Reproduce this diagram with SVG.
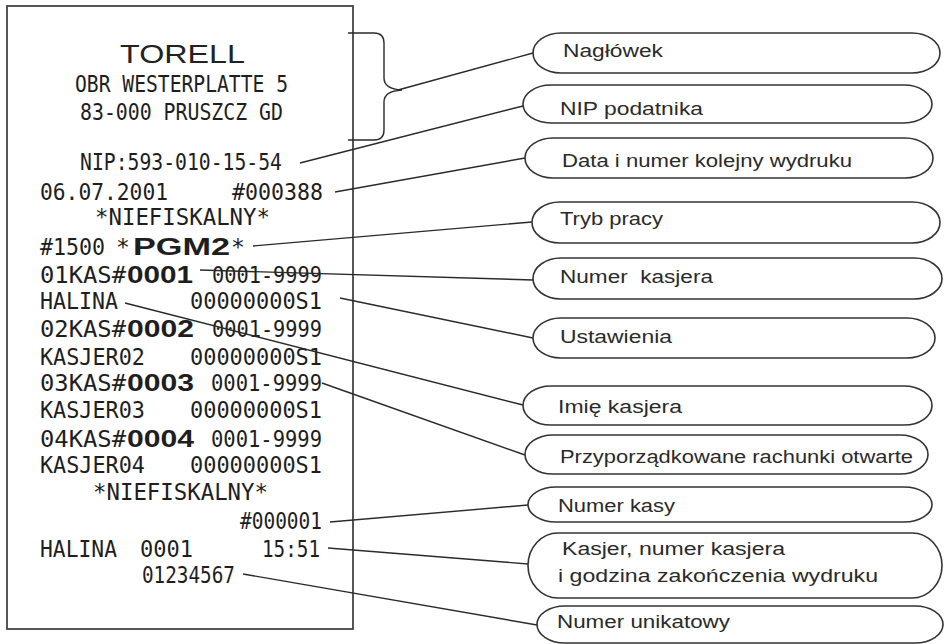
<svg xmlns="http://www.w3.org/2000/svg" width="945" height="644" viewBox="0 0 945 644">
<style>
.bg{fill:#ffffff}
.paper{fill:#ffffff;stroke:#444;stroke-width:1.8}
.cap{fill:#ffffff;stroke:#333;stroke-width:1.6}
.ln{fill:none;stroke:#2a2a2a;stroke-width:1.4}
.lbl{font-family:"Liberation Sans",Arial,sans-serif;font-size:17.5px;fill:#2a2a2a;white-space:pre}
.m{font-family:"DejaVu Sans Mono","Liberation Mono",monospace;font-size:23px;fill:#1e1e1e}
.b{font-family:"Liberation Sans",Arial,sans-serif;font-weight:bold;font-size:24px;fill:#1e1e1e}
.t{font-family:"Liberation Sans",Arial,sans-serif;font-size:25px;fill:#222}
</style>
<rect class="bg" x="0" y="0" width="945" height="644"/>

<g id="receipt">
<rect class="paper" x="7" y="6" width="346" height="623"/>
<text class="t" x="120" y="63" textLength="125" lengthAdjust="spacingAndGlyphs">TORELL</text>
<text class="m" x="75" y="92" textLength="213" lengthAdjust="spacingAndGlyphs">OBR WESTERPLATTE 5</text>
<text class="m" x="80" y="120" textLength="203" lengthAdjust="spacingAndGlyphs">83-000 PRUSZCZ GD</text>
<text class="m" x="80" y="170" textLength="202" lengthAdjust="spacingAndGlyphs">NIP:593-010-15-54</text>
<text class="m" x="40" y="200" textLength="128" lengthAdjust="spacingAndGlyphs">06.07.2001</text>
<text class="m" x="232" y="200" textLength="91" lengthAdjust="spacingAndGlyphs">#000388</text>
<text class="m" x="95" y="225" textLength="175" lengthAdjust="spacingAndGlyphs">*NIEFISKALNY*</text>
<text class="m" x="40" y="255" textLength="65" lengthAdjust="spacingAndGlyphs">#1500</text>
<text class="m" x="116" y="255">*</text>
<text class="b" x="133" y="255" textLength="97" lengthAdjust="spacingAndGlyphs">PGM2</text>
<text class="m" x="231" y="255">*</text>

<text class="m" x="40" y="283" textLength="86" lengthAdjust="spacingAndGlyphs">01KAS#</text>
<text class="b" x="127" y="283" textLength="66" lengthAdjust="spacingAndGlyphs">0001</text>
<text class="m" x="212" y="283" textLength="110" lengthAdjust="spacingAndGlyphs">0001-9999</text>
<text class="m" x="40" y="309" textLength="78" lengthAdjust="spacingAndGlyphs">HALINA</text>
<text class="m" x="190" y="309" textLength="132" lengthAdjust="spacingAndGlyphs">00000000S1</text>

<text class="m" x="40" y="337" textLength="86" lengthAdjust="spacingAndGlyphs">02KAS#</text>
<text class="b" x="127" y="337" textLength="67" lengthAdjust="spacingAndGlyphs">0002</text>
<text class="m" x="212" y="337" textLength="110" lengthAdjust="spacingAndGlyphs">0001-9999</text>
<text class="m" x="40" y="365" textLength="105" lengthAdjust="spacingAndGlyphs">KASJER02</text>
<text class="m" x="190" y="365" textLength="132" lengthAdjust="spacingAndGlyphs">00000000S1</text>

<text class="m" x="40" y="391" textLength="86" lengthAdjust="spacingAndGlyphs">03KAS#</text>
<text class="b" x="127" y="391" textLength="67" lengthAdjust="spacingAndGlyphs">0003</text>
<text class="m" x="211" y="391" textLength="111" lengthAdjust="spacingAndGlyphs">0001-9999</text>
<text class="m" x="40" y="418" textLength="105" lengthAdjust="spacingAndGlyphs">KASJER03</text>
<text class="m" x="190" y="418" textLength="132" lengthAdjust="spacingAndGlyphs">00000000S1</text>

<text class="m" x="40" y="447" textLength="86" lengthAdjust="spacingAndGlyphs">04KAS#</text>
<text class="b" x="127" y="447" textLength="67" lengthAdjust="spacingAndGlyphs">0004</text>
<text class="m" x="211" y="447" textLength="111" lengthAdjust="spacingAndGlyphs">0001-9999</text>
<text class="m" x="40" y="473" textLength="105" lengthAdjust="spacingAndGlyphs">KASJER04</text>
<text class="m" x="190" y="473" textLength="132" lengthAdjust="spacingAndGlyphs">00000000S1</text>

<text class="m" x="93" y="500" textLength="175" lengthAdjust="spacingAndGlyphs">*NIEFISKALNY*</text>
<text class="m" x="240" y="529" textLength="82" lengthAdjust="spacingAndGlyphs">#000001</text>
<text class="m" x="40" y="557" textLength="77" lengthAdjust="spacingAndGlyphs">HALINA</text>
<text class="m" x="140" y="557" textLength="53" lengthAdjust="spacingAndGlyphs">0001</text>
<text class="m" x="262" y="557" textLength="58" lengthAdjust="spacingAndGlyphs">15:51</text>
<text class="m" x="142" y="583" textLength="93" lengthAdjust="spacingAndGlyphs">01234567</text>
</g>

<g id="brace">
<path class="ln" d="M348 33 H374 Q384 33 384 43 V78 Q384 89 402 90 Q384 91 384 102 V130 Q384 140 374 140 H348"/>
</g>

<g id="connectors">
<line class="ln" x1="398" y1="90" x2="533" y2="53"/>
<line class="ln" x1="300" y1="163" x2="523" y2="106"/>
<line class="ln" x1="335" y1="192" x2="525" y2="158"/>
<line class="ln" x1="253" y1="246" x2="532" y2="222"/>
<line class="ln" x1="200" y1="270" x2="533" y2="280"/>
<line class="ln" x1="340" y1="298" x2="533" y2="338"/>
<line class="ln" x1="125" y1="303" x2="523" y2="405"/>
<line class="ln" x1="322" y1="383" x2="525" y2="455"/>
<line class="ln" x1="330" y1="522" x2="528" y2="505"/>
<line class="ln" x1="328" y1="548" x2="528" y2="564"/>
<line class="ln" x1="243" y1="574" x2="537" y2="625"/>
</g>

<g id="n-naglowek">
<rect class="cap" x="533" y="33" width="407" height="40" rx="28" ry="20"/>
<text class="lbl" x="563" y="57" textLength="100" lengthAdjust="spacingAndGlyphs">Nagłówek</text>
</g>
<g id="n-nip">
<rect class="cap" x="523" y="85" width="409" height="38" rx="28" ry="19"/>
<text class="lbl" x="560" y="115" textLength="143" lengthAdjust="spacingAndGlyphs">NIP podatnika</text>
</g>
<g id="n-data">
<rect class="cap" x="525" y="138" width="408" height="40" rx="28" ry="20"/>
<text class="lbl" x="562" y="167" textLength="290" lengthAdjust="spacingAndGlyphs">Data i numer kolejny wydruku</text>
</g>
<g id="n-tryb">
<rect class="cap" x="532" y="202" width="408" height="41" rx="28" ry="20.5"/>
<text class="lbl" x="560" y="225" textLength="103" lengthAdjust="spacingAndGlyphs">Tryb pracy</text>
</g>
<g id="n-numer-kasjera">
<rect class="cap" x="533" y="258" width="409" height="41" rx="28" ry="20.5"/>
<text class="lbl" x="560" y="283" textLength="153" lengthAdjust="spacingAndGlyphs">Numer  kasjera</text>
</g>
<g id="n-ustawienia">
<rect class="cap" x="533" y="318" width="402" height="40" rx="28" ry="20"/>
<text class="lbl" x="560" y="343" textLength="112" lengthAdjust="spacingAndGlyphs">Ustawienia</text>
</g>
<g id="n-imie">
<rect class="cap" x="523" y="386" width="409" height="39" rx="28" ry="19.5"/>
<text class="lbl" x="558" y="413" textLength="124" lengthAdjust="spacingAndGlyphs">Imię kasjera</text>
</g>
<g id="n-rachunki">
<rect class="cap" x="525" y="435" width="403" height="39" rx="28" ry="19.5"/>
<text class="lbl" x="560" y="463" textLength="353" lengthAdjust="spacingAndGlyphs">Przyporządkowane rachunki otwarte</text>
</g>
<g id="n-numer-kasy">
<rect class="cap" x="528" y="487" width="404" height="35" rx="28" ry="17.5"/>
<text class="lbl" x="558" y="512" textLength="117" lengthAdjust="spacingAndGlyphs">Numer kasy</text>
</g>
<g id="n-kasjer">
<rect class="cap" x="528" y="533" width="414" height="65" rx="30" ry="32.5"/>
<text class="lbl" x="562" y="555" textLength="223" lengthAdjust="spacingAndGlyphs">Kasjer, numer kasjera</text>
<text class="lbl" x="558" y="582" textLength="320" lengthAdjust="spacingAndGlyphs">i godzina zakończenia wydruku</text>
</g>
<g id="n-unikatowy">
<rect class="cap" x="537" y="606" width="406" height="37" rx="28" ry="18.5"/>
<text class="lbl" x="557" y="628" textLength="173" lengthAdjust="spacingAndGlyphs">Numer unikatowy</text>
</g>
</svg>
